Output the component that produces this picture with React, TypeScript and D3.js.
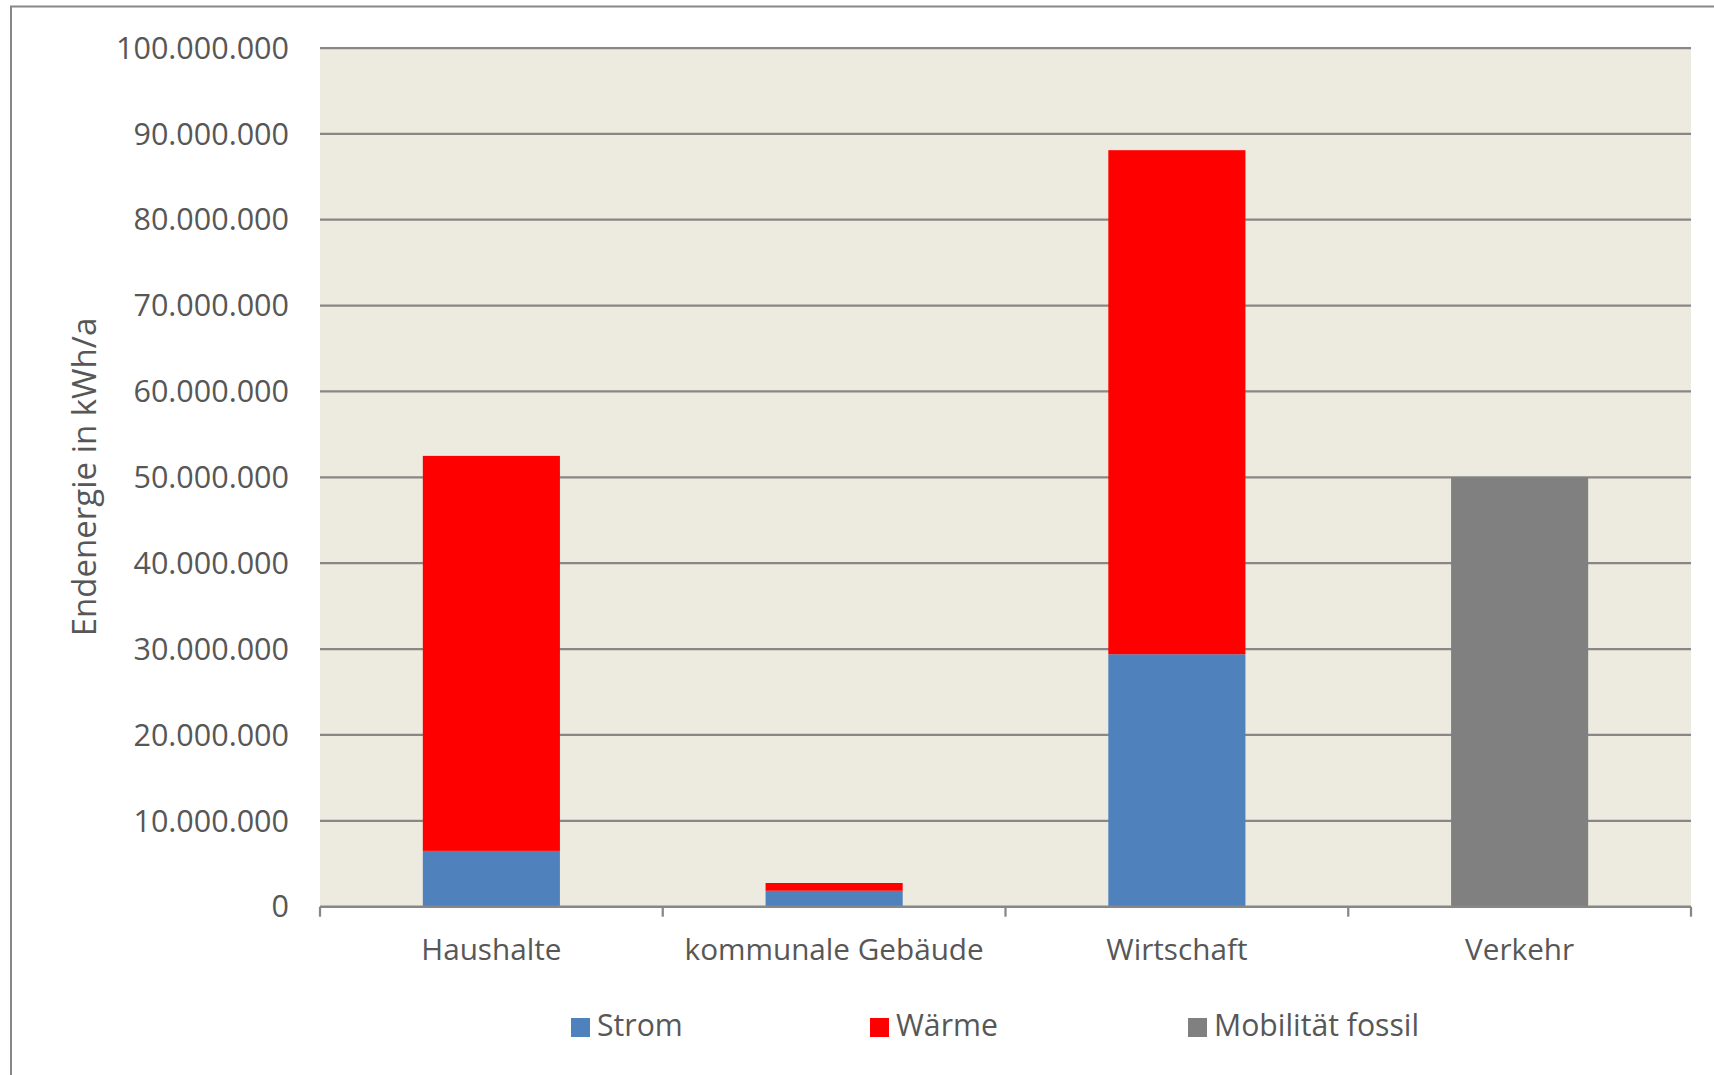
import React from "react";
import * as d3 from "d3";

// Endenergie by sector, stacked by energy carrier (kWh/a)
const categories = ["Haushalte", "kommunale Gebäude", "Wirtschaft", "Verkehr"];
const seriesNames = ["Strom", "Wärme", "Mobilität fossil"];
const strom = [6500000, 1860000, 29400000, 0];
const waerme = [46000000, 900000, 58700000, 0];
const mobilitaet = [0, 0, 0, 50000000];
const seriesColors = ["#4F81BD", "#FF0000", "#808080"];
const yTicks = [0, 10000000, 20000000, 30000000, 40000000, 50000000, 60000000, 70000000, 80000000, 90000000, 100000000];
const yTitle = "Endenergie in kWh/a";

const W = 1714;
const H = 1075;
const plot = { left: 320, right: 1691, top: 48, bottom: 906.7 };
const FONT = "'Open Sans', 'Noto Sans', sans-serif";
const TEXT = "#575757";
const GRID = "#878787";

const fmt = (v: number) => d3.format(",")(v).replace(/,/g, ".");

export default function App() {
  const x = d3
    .scaleBand<string>()
    .domain(categories)
    .range([plot.left, plot.right])
    .paddingInner(0.6)
    .paddingOuter(0.3);
  const y = d3.scaleLinear().domain([0, 100000000]).range([plot.bottom, plot.top]);

  const rows = categories.map((c, i) => ({
    cat: c,
    "Strom": strom[i],
    "Wärme": waerme[i],
    "Mobilität fossil": mobilitaet[i],
  }));
  const stacked = d3.stack<any>().keys(seriesNames)(rows);

  const step = x.step();
  const boundaries = d3.range(categories.length + 1).map((i) => plot.left + i * step);

  const legendX = [571, 870, 1188];
  const legendY = 1018;

  return (
    <svg
      width={W}
      height={H}
      style={{ position: "absolute", left: 0, top: 0, background: "#ffffff" }}
    >
      <rect x={0} y={0} width={W} height={H} fill="#ffffff" />
      {/* chart frame */}
      <rect x={11} y={6.5} width={W + 20} height={H + 20} fill="none" stroke={GRID} strokeWidth={2} />

      {/* plot background */}
      <rect
        x={plot.left}
        y={plot.top}
        width={plot.right - plot.left}
        height={plot.bottom - plot.top}
        fill="#EDEAE0"
      />

      {/* gridlines */}
      {yTicks.filter((t) => t > 0).map((t) => (
        <line
          key={t}
          x1={plot.left}
          x2={plot.right}
          y1={y(t)}
          y2={y(t)}
          stroke={GRID}
          strokeWidth={2.25}
        />
      ))}

      {/* bars */}
      {stacked.map((s, si) => (
        <g key={s.key} fill={seriesColors[si]}>
          {s.map((d, i) =>
            d[1] - d[0] > 0 ? (
              <rect
                key={i}
                x={x(categories[i])}
                width={x.bandwidth()}
                y={y(d[1])}
                height={y(d[0]) - y(d[1])}
              />
            ) : null
          )}
        </g>
      ))}

      {/* x axis */}
      <line x1={plot.left} x2={plot.right} y1={plot.bottom} y2={plot.bottom} stroke={GRID} strokeWidth={2.5} />
      {boundaries.map((b, i) => (
        <line key={i} x1={b} x2={b} y1={plot.bottom} y2={plot.bottom + 10} stroke={GRID} strokeWidth={2.25} />
      ))}

      {/* y tick labels */}
      {yTicks.map((t) => (
        <text
          key={t}
          x={289}
          y={y(t)}
          dy="0.35em"
          textAnchor="end"
          fontFamily={FONT}
          fontSize={30.5}
          fill={TEXT}
        >
          {fmt(t)}
        </text>
      ))}

      {/* category labels */}
      {categories.map((c) => (
        <text
          key={c}
          x={(x(c) as number) + x.bandwidth() / 2}
          y={960}
          textAnchor="middle"
          fontFamily={FONT}
          fontSize={29.7}
          fill={TEXT}
        >
          {c}
        </text>
      ))}

      {/* y axis title */}
      <text
        transform={`translate(95.5, 477) rotate(-90)`}
        textAnchor="middle"
        fontFamily={FONT}
        fontSize={33}
        fill={TEXT}
      >
        {yTitle}
      </text>

      {/* legend */}
      {seriesNames.map((n, i) => (
        <g key={n}>
          <rect x={legendX[i]} y={legendY} width={19} height={19} fill={seriesColors[i]} />
          <text
            x={legendX[i] + 26}
            y={1036}
            fontFamily={FONT}
            fontSize={30.2}
            fill={TEXT}
          >
            {n}
          </text>
        </g>
      ))}
    </svg>
  );
}
